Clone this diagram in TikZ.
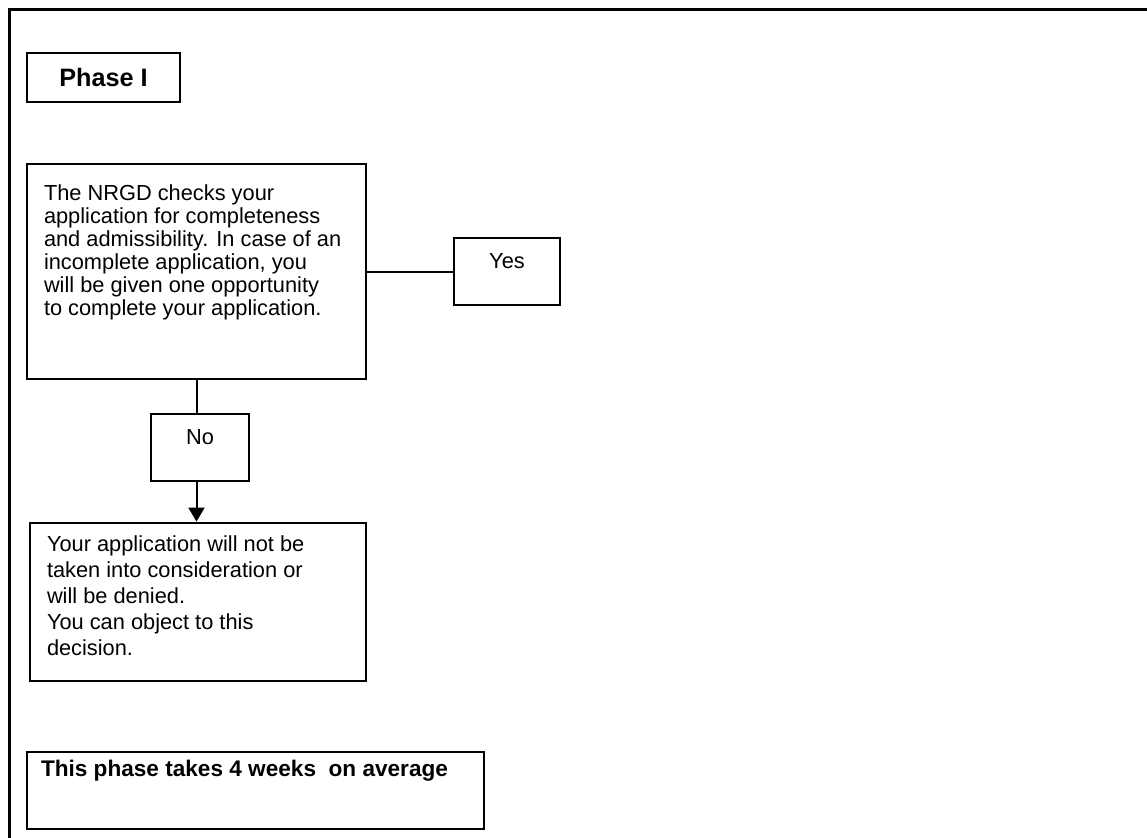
\documentclass[tikz,border=0pt]{standalone}
\usepackage{fontspec}
\setmainfont{Liberation Sans}
\usetikzlibrary{positioning, arrows.meta}
\tikzset{
	>={Triangle[length=7pt, width=8pt]},
	every node/.style={inner sep=0pt},
	box/.style={draw, line width=1pt, rectangle},
	link/.style={line width=1pt},
}

\begin{document}
\begin{tikzpicture}[x=0.5pt, y=-0.5pt]
			
			\useasboundingbox (0,0) rectangle (1147,837);
			\begin{scope}
				\clip (0,0) rectangle (1147,837);
				\draw[line width=1.2pt] (9.5,900) -- (9.5,9.5) -- (1200,9.5);
			\end{scope}
			
			\node[box, anchor=north west, minimum width=76.5pt, minimum height=24.5pt] (PHASE) at (26,52) {\fontsize{12.6}{15}\selectfont\bfseries Phase I};
			\node[box, below=30pt of PHASE.south west, anchor=north west, minimum width=169.5pt, minimum height=107.5pt] (CHECK) {\parbox[c][86.9pt][t]{152.5pt}{\fontsize{10.9}{11.5}\selectfont The NRGD checks your\\ application for completeness\\ and admissibility. In case of an\\ incomplete application, you\\ will be given one opportunity\\ to complete your application.}};
			\node[box, right=43pt of CHECK, minimum width=53pt, minimum height=33.5pt] (YES) {\parbox[c][17.9pt][t]{53pt}{\centering\fontsize{10.9}{13}\selectfont Yes}};
			\node[box, below=16.3pt of CHECK, xshift=1.75pt, minimum width=49pt, minimum height=33.5pt] (NO) {\parbox[c][17.9pt][t]{49pt}{\centering\fontsize{10.9}{13}\selectfont No}};
			\node[box, below=20pt of NO, xshift=-1pt, minimum width=168pt, minimum height=79pt] (DENY) {\parbox[c][65.8pt][t]{151pt}{\fontsize{10.9}{13}\selectfont Your application will not be\\ taken into consideration or\\ will be denied.\\ You can object to this\\ decision.}};
			\node[box, below=34.5pt of DENY.south west, anchor=north west, xshift=-1.5pt, minimum width=228.5pt, minimum height=38.5pt] (SUM) {\parbox[c][29.5pt][t]{214.5pt}{\bfseries\fontsize{11.3}{13}\selectfont This phase takes 4 weeks\ \ on average}};
			
			\draw[link] (CHECK) -- (YES);
			\draw[link] (CHECK.south) -- (CHECK.south |- NO.north);
			\draw[link, ->] (CHECK.south |- NO.south) -- (CHECK.south |- DENY.north);
			
\end{tikzpicture}
\end{document}
